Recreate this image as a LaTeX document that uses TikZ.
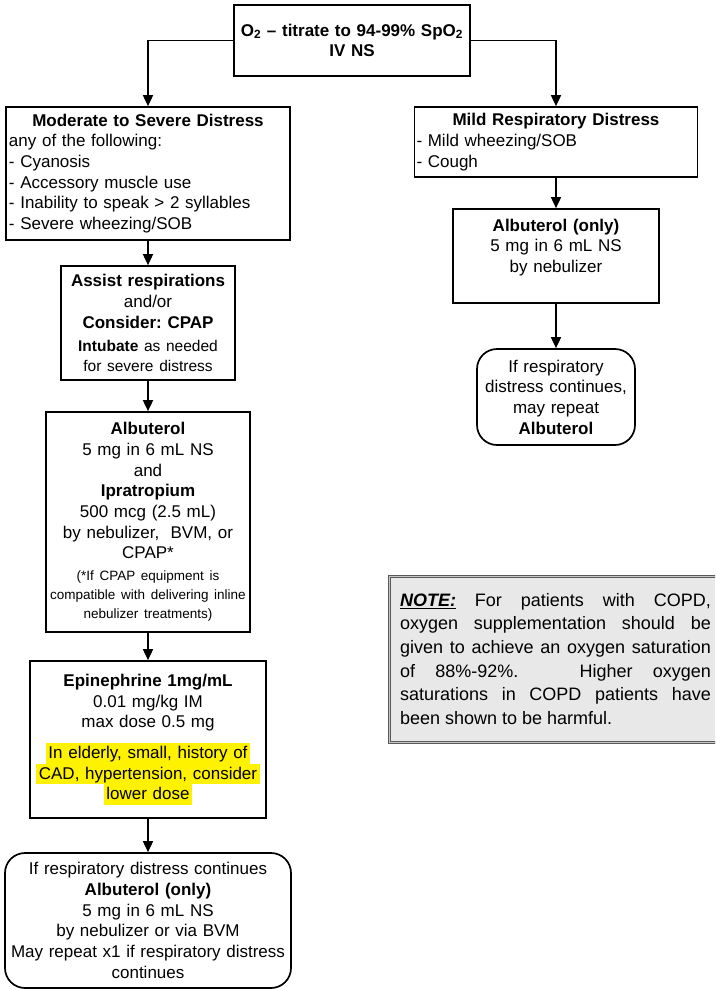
\documentclass[tikz,border=0pt]{standalone}
\usepackage{fontspec}
\setmainfont{Liberation Sans}
\usepackage{pgf, tikz}
\usetikzlibrary{arrows.meta}
\usepackage{xcolor}
\frenchspacing

\newcommand{\hlite}[1]{{\setlength{\fboxsep}{0pt}\colorbox{yellow}{\rule[-5.2pt]{0pt}{20.7pt}\,#1\,}}}

\begin{document}
\begin{tikzpicture}[
            > = {Triangle[length=11pt, width=10pt]},
            x = 1pt, y = -1pt,
            line width = 1.7pt
        ]

        \tikzstyle{box}=[
            draw,
            rectangle,
            inner xsep = 2pt,
            inner ysep = 0pt,
            align = center,
            font = \fontsize{17}{20.7}\selectfont
        ]
        \tikzstyle{roundbox}=[box, rounded corners = 20pt]
        \tikzstyle{notebox}=[
            draw = black!65,
            double = gray!45,
            double distance = 1pt,
            line width = 1pt,
            fill = gray!18,
            inner xsep = 11pt,
            align = justify,
            font = \fontsize{18}{23.7}\selectfont
        ]

        \useasboundingbox (0,0) rectangle (715,990);
        \clip (0,0) rectangle (715,990);

        \node[box, text width=232pt, minimum height=71pt] (oxy) at (352,40.5) {\textbf{O\textsubscript{2} – titrate to 94-99\% SpO\textsubscript{2}}\\ \textbf{IV NS}};

        \node[box, align=left, inner xsep=3pt, text width=278pt, minimum height=133pt] (severe) at (148,173.5) {\makebox[\linewidth]{\textbf{Moderate to Severe Distress}}\\ any of the following:\\ - Cyanosis\\ - Accessory muscle use\\ - Inability to speak > 2 syllables\\ - Severe wheezing/SOB};
        \node[box, text width=170pt, minimum height=114pt] (assist) at (148,323) {\textbf{Assist respirations}\\ and/or\\ \textbf{Consider: CPAP}\par\vspace{4pt}{\fontsize{15.5}{19.5}\selectfont \textbf{Intubate} as needed\\ for severe distress\par}};
        \node[box, text width=200pt, minimum height=220pt] (alb) at (148,522) {\textbf{Albuterol}\\ 5 mg in 6 mL NS\\ and\\ \textbf{Ipratropium}\\ 500 mcg (2.5 mL)\\ by nebulizer,\ \ BVM, or\\ CPAP*\par\vspace{3pt}{\fontsize{13.5}{19}\selectfont (*If CPAP equipment is\\ compatible with delivering inline\\ nebulizer treatments)\par}};
        \node[box, text width=232pt, minimum height=157pt] (epi) at (148,739.5) {\textbf{Epinephrine 1mg/mL}\\ 0.01 mg/kg IM\\ max dose 0.5 mg\par\vspace{10pt}\hlite{In elderly, small, history of}\\ \hlite{CAD, hypertension, consider}\\ \hlite{lower dose}};
        \node[roundbox, text width=282pt, minimum height=135pt] (again) at (148,920.5) {If respiratory distress continues\\ \textbf{Albuterol (only)}\\ 5 mg in 6 mL NS\\ by nebulizer or via BVM\\ May repeat x1 if respiratory distress\\ continues};

        \node[box, align=left, text width=279pt, minimum height=70pt] (mild) at (556,142) {\makebox[\linewidth]{\textbf{Mild Respiratory Distress}}\\ - Mild wheezing/SOB\\ - Cough};
        \node[box, text width=202pt, minimum height=94pt] (nebul) at (556,256) {\textbf{Albuterol (only)}\\ 5 mg in 6 mL NS\\ by nebulizer\\ \mbox{}};
        \node[roundbox, text width=154pt, minimum height=96pt] (rpt) at (556,397) {If respiratory\\ distress continues,\\ may repeat\\ \textbf{Albuterol}};

        \node[notebox, text width=311pt, minimum height=166pt] (note) at (555.5,659) {\underline{\textbf{\textit{NOTE:}}} For patients with COPD,\linebreak oxygen supplementation should be\linebreak given to achieve an oxygen saturation\linebreak of 88\%-92\%. \ \ Higher oxygen\linebreak saturations in COPD patients have\linebreak been shown to be harmful.};

        \draw[->] (oxy.west) -| (severe.north);
        \draw[->] (oxy.east) -| (mild.north);
        \draw[->] (severe) -- (assist);
        \draw[->] (assist) -- (alb);
        \draw[->] (alb) -- (epi);
        \draw[->] (epi) -- (again);
        \draw[->] (mild) -- (nebul);
        \draw[->] (nebul) -- (rpt);
    \end{tikzpicture}
\end{document}
